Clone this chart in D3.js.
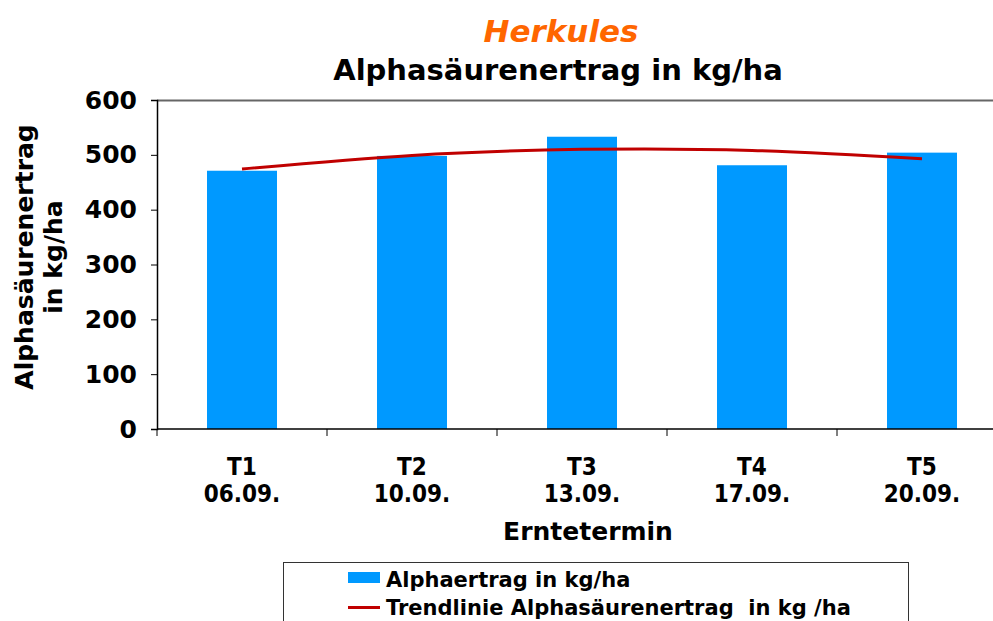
<!DOCTYPE html>
<html>
<head>
<meta charset="utf-8">
<script src="https://cdn.jsdelivr.net/npm/d3@7"></script>
<style>
  body { margin: 0; background: #fff; }
  svg { display: block; }
  text { font-family: "DejaVu Sans", Verdana, sans-serif; font-weight: bold; }
  .narrow { font-family: "Liberation Sans Narrow", "DejaVu Sans Condensed", sans-serif; }
</style>
</head>
<body>
<svg id="chart" width="993" height="621"></svg>
<script>
var categories = ['T1', 'T2', 'T3', 'T4', 'T5'];
var dates = ['06.09.', '10.09.', '13.09.', '17.09.', '20.09.'];
var alphaYield = [471, 498, 533, 481, 504];
// trendline values at each harvest date
var trendYield = [474, 499, 510, 508, 493];
var yTicks = [0, 100, 200, 300, 400, 500, 600];

var svg = d3.select('#chart');

var LEFT = 157, RIGHT = 1007, TOP = 100, BOTTOM = 429;

var x = d3.scaleBand()
    .domain(categories)
    .range([LEFT, RIGHT])
    .paddingInner(100 / 170)
    .paddingOuter(50 / 170);

var y = d3.scaleLinear().domain([0, 600]).range([BOTTOM, TOP]);

// top border of plot area
svg.append('line')
    .attr('x1', LEFT).attr('x2', 993)
    .attr('y1', TOP + 0.5).attr('y2', TOP + 0.5)
    .attr('stroke', '#666').attr('stroke-width', 2);

// bars
svg.selectAll('rect.bar')
    .data(alphaYield)
    .enter().append('rect')
    .attr('class', 'bar')
    .attr('x', function (d, i) { return x(categories[i]); })
    .attr('width', x.bandwidth())
    .attr('y', function (d) { return y(d); })
    .attr('height', function (d) { return y(0) - y(d); })
    .attr('fill', '#0099ff');

// trendline
var line = d3.line()
    .x(function (d, i) { return x(categories[i]) + x.bandwidth() / 2; })
    .y(function (d) { return y(d); })
    .curve(d3.curveNatural);

svg.append('path')
    .datum(trendYield)
    .attr('d', line)
    .attr('fill', 'none')
    .attr('stroke', '#c00000')
    .attr('stroke-width', 3);

// y axis
var yAxis = d3.axisLeft(y).tickValues(yTicks).tickSize(6).tickPadding(14);
var gy = svg.append('g').attr('transform', 'translate(' + LEFT + ',0)').call(yAxis);
gy.select('.domain').attr('stroke', '#000').attr('stroke-width', 1.5);
gy.selectAll('.tick line').attr('stroke', '#000');
gy.selectAll('.tick text')
    .attr('font-size', 25)
    .attr('font-family', '"DejaVu Sans", sans-serif')
    .attr('font-weight', 'bold')
    .attr('fill', '#000');

// x axis
var xTickPos = d3.range(categories.length).map(function (i) { return LEFT + i * x.step(); });
svg.append('line')
    .attr('x1', LEFT).attr('x2', 993)
    .attr('y1', BOTTOM).attr('y2', BOTTOM)
    .attr('stroke', '#000').attr('stroke-width', 1.5);
svg.selectAll('line.xtick')
    .data(xTickPos)
    .enter().append('line')
    .attr('class', 'xtick')
    .attr('x1', function (d) { return d; }).attr('x2', function (d) { return d; })
    .attr('y1', BOTTOM).attr('y2', BOTTOM + 7)
    .attr('stroke', '#000');

var xl = svg.selectAll('text.xlab')
    .data(categories)
    .enter().append('text')
    .attr('class', 'xlab narrow')
    .attr('text-anchor', 'middle')
    .attr('font-size', 24)
    .attr('x', function (d) { return x(d) + x.bandwidth() / 2; })
    .attr('y', 475);
xl.append('tspan').text(function (d) { return d; });
xl.append('tspan')
    .attr('x', function (d) { return x(d) + x.bandwidth() / 2; })
    .attr('dy', 27)
    .text(function (d, i) { return dates[i]; });

svg.append('text')
    .attr('x', 588).attr('y', 540)
    .attr('text-anchor', 'middle')
    .attr('font-size', 25)
    .text('Erntetermin');

// titles
svg.append('text')
    .attr('x', 561).attr('y', 42)
    .attr('text-anchor', 'middle')
    .attr('font-size', 31)
    .attr('font-style', 'italic')
    .attr('fill', '#ff6600')
    .text('Herkules');

svg.append('text')
    .attr('x', 558).attr('y', 80)
    .attr('text-anchor', 'middle')
    .attr('font-size', 29)
    .text('Alphasäurenertrag in kg/ha');

// y axis title
var yt = svg.append('text')
    .attr('transform', 'translate(33,257) rotate(-90)')
    .attr('text-anchor', 'middle')
    .attr('font-size', 25);
yt.append('tspan').attr('x', 0).attr('y', 0).text('Alphasäurenertrag');
yt.append('tspan').attr('x', 0).attr('y', 29).text('in kg/ha');

// legend
svg.append('rect')
    .attr('x', 283.5).attr('y', 562.5)
    .attr('width', 625).attr('height', 80)
    .attr('fill', '#fff')
    .attr('stroke', '#333').attr('stroke-width', 1);

svg.append('rect')
    .attr('x', 348).attr('y', 572)
    .attr('width', 32).attr('height', 11)
    .attr('fill', '#0099ff');
svg.append('text')
    .attr('x', 386).attr('y', 587)
    .attr('font-size', 21)
    .text('Alphaertrag in kg/ha');

svg.append('line')
    .attr('x1', 348).attr('x2', 380)
    .attr('y1', 607.5).attr('y2', 607.5)
    .attr('stroke', '#c00000').attr('stroke-width', 3);
svg.append('text')
    .attr('x', 386).attr('y', 615)
    .attr('font-size', 21)
    .attr('xml:space', 'preserve')
    .style('white-space', 'pre')
    .text('Trendlinie Alphasäurenertrag  in kg /ha');
</script>
</body>
</html>
